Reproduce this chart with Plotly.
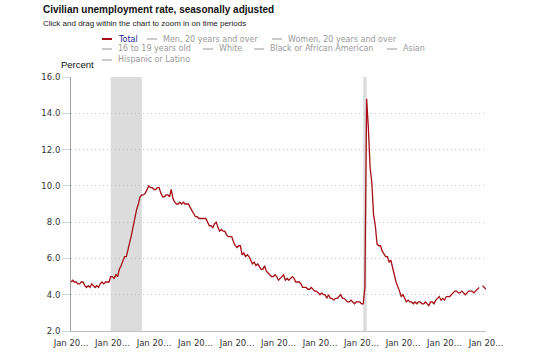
import plotly.graph_objects as go
import pandas as pd

# ---- data (civilian unemployment rate, %, seasonally adjusted, monthly) ----
u2006 = [4.7, 4.8, 4.7, 4.7, 4.6, 4.6, 4.7, 4.7, 4.5, 4.4, 4.5, 4.4]
u2007 = [4.6, 4.5, 4.4, 4.5, 4.4, 4.6, 4.7, 4.6, 4.7, 4.7, 4.7, 5.0]
u2008 = [5.0, 4.9, 5.1, 5.0, 5.4, 5.6, 5.8, 6.1, 6.1, 6.5, 6.8, 7.3]
u2009 = [7.8, 8.3, 8.7, 9.0, 9.4, 9.5, 9.5, 9.6, 9.8, 10.0, 9.9, 9.9]
u2010 = [9.8, 9.8, 9.9, 9.9, 9.6, 9.4, 9.4, 9.5, 9.5, 9.4, 9.8, 9.3]
u2011 = [9.1, 9.0, 9.0, 9.1, 9.0, 9.1, 9.0, 9.0, 9.0, 8.8, 8.6, 8.5]
u2012 = [8.3, 8.3, 8.2, 8.2, 8.2, 8.2, 8.2, 8.0, 7.8, 7.8, 7.7, 7.9]
u2013 = [8.0, 7.7, 7.5, 7.6, 7.5, 7.5, 7.3, 7.2, 7.2, 7.2, 6.9, 6.7]
u2014 = [6.6, 6.7, 6.7, 6.2, 6.3, 6.1, 6.2, 6.1, 5.9, 5.7, 5.8, 5.6]
u2015 = [5.7, 5.5, 5.4, 5.4, 5.6, 5.3, 5.2, 5.1, 5.0, 5.0, 5.1, 5.0]
u2016 = [4.8, 4.9, 5.0, 5.1, 4.8, 4.9, 4.8, 4.9, 5.0, 4.9, 4.7, 4.7]
u2017 = [4.7, 4.6, 4.4, 4.4, 4.4, 4.3, 4.3, 4.4, 4.3, 4.2, 4.2, 4.1]
u2018 = [4.0, 4.1, 4.0, 4.0, 3.8, 4.0, 3.8, 3.8, 3.7, 3.8, 3.8, 3.9]
u2019 = [4.0, 3.8, 3.8, 3.7, 3.6, 3.6, 3.7, 3.6, 3.5, 3.6, 3.6, 3.6]
u2020 = [3.5, 3.5, 4.4, 14.8, 13.2, 11.0, 10.2, 8.4, 7.8, 6.8, 6.7, 6.7]
u2021 = [6.4, 6.2, 6.1, 6.1, 5.8, 5.9, 5.4, 5.1, 4.7, 4.5, 4.2, 3.9]
u2022 = [4.0, 3.8, 3.6, 3.7, 3.6, 3.6, 3.5, 3.6, 3.5, 3.6, 3.6, 3.5]
u2023 = [3.5, 3.6, 3.5, 3.4, 3.6, 3.6, 3.5, 3.7, 3.8, 3.9, 3.7, 3.8]
u2024 = [3.7, 3.9, 3.9, 3.9, 4.0, 4.1, 4.2, 4.2, 4.1, 4.1, 4.2, 4.1]
u2025 = [4.0, 4.1, 4.2, 4.2, 4.2, 4.1, 4.2, 4.3, 4.4, None, 4.5, 4.4]
u2026 = [4.3]

start_month = "2006-01-01"
recessions = [("2007-12-01", "2009-06-01"), ("2020-02-01", "2020-04-01")]
tick_dates = ["2006-01-01", "2008-01-01", "2010-01-01", "2012-01-01", "2014-01-01",
              "2016-01-01", "2018-01-01", "2020-01-01", "2022-01-01", "2024-01-01",
              "2026-01-01"]
tick_text = ["Jan 20..."] * len(tick_dates)
legend_rows = [
    ["Total", "Men, 20 years and over", "Women, 20 years and over"],
    ["16 to 19 years old", "White", "Black or African American", "Asian"],
    ["Hispanic or Latino"],
]

values = (u2006 + u2007 + u2008 + u2009 + u2010 + u2011 + u2012 + u2013 + u2014 + u2015
          + u2016 + u2017 + u2018 + u2019 + u2020 + u2021 + u2022 + u2023 + u2024
          + u2025 + u2026)
dates = pd.date_range(start_month, periods=len(values), freq="MS")

# ---- layout geometry (window pixels; body margin removed below) ----
W, H = 539, 356
PLOT_L, PLOT_R, PLOT_T, PLOT_B = 71, 486, 77, 331
L, T = PLOT_L, PLOT_T
R = W - PLOT_R
B = H - PLOT_B
PW, PH = W - L - R, H - T - B


def px(x):
    return (x - PLOT_L) / PW


def py(y):
    return (PLOT_B - y) / PH


RED = "#a50f15"
fig = go.Figure()

for s, e in recessions:
    fig.add_shape(type="rect", xref="x", yref="paper", x0=s, x1=e, y0=0, y1=1,
                  fillcolor="#dcdcdc", line_width=0, layer="below")

fig.add_trace(go.Scatter(x=dates, y=values, mode="lines",
                         line=dict(color=RED, width=1.3), name="Total",
                         showlegend=False, hoverinfo="x+y"))

annotations = []
shapes = []
F_TXT = "Liberation Sans, Arial, sans-serif"
F_LEG = "DejaVu Sans, Verdana, sans-serif"

annotations.append(dict(text="<b>Civilian unemployment rate, seasonally adjusted</b>",
                        x=px(41), y=py(9), xref="paper", yref="paper",
                        xanchor="left", yanchor="middle", showarrow=False,
                        font=dict(family=F_TXT, size=10, color="#111")))
annotations.append(dict(text="Click and drag within the chart to zoom in on time periods",
                        x=px(41), y=py(24), xref="paper", yref="paper",
                        xanchor="left", yanchor="middle", showarrow=False,
                        font=dict(family=F_TXT, size=8, color="#222")))
annotations.append(dict(text="Percent", x=px(59), y=py(64), xref="paper", yref="paper",
                        xanchor="left", yanchor="middle", showarrow=False,
                        font=dict(family=F_TXT, size=9.5, color="#111")))

# legend (row y, dash start x per item)
leg_pos = [
    (39, [102, 147, 272]),
    (49, [102, 203, 254, 387]),
    (60, [102]),
]
for (ry, xs), names in zip(leg_pos, legend_rows):
    for x0, name in zip(xs, names):
        active = name == "Total"
        shapes.append(dict(type="line", xref="paper", yref="paper",
                           x0=px(x0), x1=px(x0 + 10), y0=py(ry), y1=py(ry),
                           line=dict(color=RED if active else "#a8a8a8",
                                     width=2 if active else 1.2)))
        annotations.append(dict(text=name, x=px(x0 + 14), y=py(ry), xref="paper",
                                yref="paper", xanchor="left", yanchor="middle",
                                showarrow=False,
                                font=dict(family=F_LEG, size=8,
                                          color="#1f1f99" if active else "#999999")))

for s in shapes:
    fig.add_shape(**s)

fig.update_layout(
    width=W, height=H,
    margin=dict(l=L, r=R, t=T, b=B, autoexpand=False),
    paper_bgcolor="white", plot_bgcolor="white",
    showlegend=False,
    annotations=annotations,
    xaxis=dict(type="date", range=[dates[0], dates[-1]], automargin=False,
               tickvals=tick_dates, ticktext=tick_text,
               showgrid=False, zeroline=False,
               showline=True, linecolor="#c0c0c0", linewidth=1,
               ticks="outside", ticklen=4, tickcolor="rgba(0,0,0,0)",
               tickfont=dict(family=F_LEG, size=8.5, color="#333")),
    yaxis=dict(range=[2, 16], dtick=2, tickformat=".1f", automargin=False,
               showgrid=True, gridcolor="#c4c4c4", griddash="1px,3px", gridwidth=1,
               zeroline=False, showline=True, linecolor="#a0a0a0", linewidth=1,
               ticks="outside", ticklen=8, tickcolor="#ccd6eb",
               tickfont=dict(family=F_LEG, size=8.5, color="#333")),
)

fig.write_html("out.html", config={"displayModeBar": False},
               post_script="document.body.style.margin='0';document.body.style.overflow='hidden';")
